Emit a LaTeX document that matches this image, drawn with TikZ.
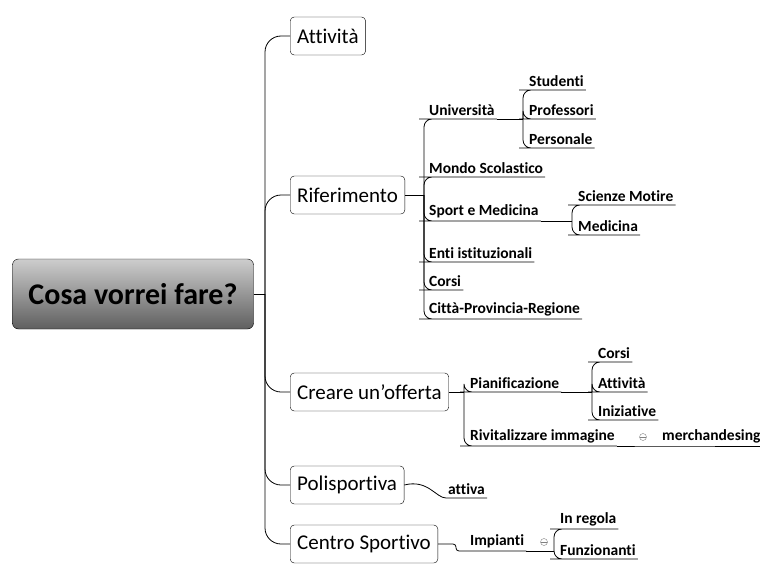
\documentclass[tikz,border=0pt]{standalone}
\usepackage{fontspec}
\setmainfont{Carlito}[Ligatures=NoCommon]
\usepackage{tikz}
\usetikzlibrary{positioning,calc}
\definecolor{mylight}{RGB}{205,205,205}
\definecolor{mydark}{RGB}{95,95,95}
\tikzstyle{central}=[draw,rounded corners=6pt,top color=mylight,bottom color=mydark,minimum width=241pt,minimum height=70pt,font=\fontsize{30}{32}\selectfont\bfseries]
\tikzstyle{topic}=[draw,rounded corners=4pt,minimum height=38pt,inner xsep=7pt,anchor=west,font=\fontsize{21}{23}\selectfont]
\tikzstyle{sub}=[anchor=south west,inner xsep=2pt,inner ysep=3pt,font=\fontsize{15.5}{17}\selectfont\bfseries]
\tikzstyle{link}=[line width=0.8pt,rounded corners=8pt]
\tikzstyle{toggle}=[draw=gray,circle,inner sep=0pt,minimum size=7pt,path picture={\draw[gray] (path picture bounding box.west) -- (path picture bounding box.east);}]

\begin{document}
\begin{tikzpicture}[x=1pt,y=-1pt]
\useasboundingbox (0,0) rectangle (760,567);

% central topic
\node [central] (root) at (133,294) {Cosa vorrei fare?};
\coordinate (rootj) at (265,294);

% main topics
\node [topic] (att) at (290,36) {Attività};
\node [topic] (ref) at (290,195) {Riferimento};
\node [topic] (cre) at (290,392) {Creare un'offerta};
\node [topic] (pol) at (290,485) {Polisportiva};
\node [topic] (cen) at (290,544) {Centro Sportivo};

\draw [link] (root.east) -- (rootj);
\foreach \t in {att,ref,cre,pol,cen}
  \draw [link,rounded corners=16pt] (rootj) |- (\t.west);

% Riferimento
\node [sub] (uni) at (427,119) {Università};
\node [sub] (mon) at (427,177) {Mondo Scolastico};
\node [sub] (spo) at (427,221) {Sport e Medicina};
\node [sub] (ent) at (427,262) {Enti istituzionali};
\node [sub] (cor) at (427,290) {Corsi};
\node [sub] (cit) at (427,319) {Città-Provincia-Regione};
\coordinate (refj) at (424,195);
\draw [link] (ref.east) -- (refj);
\foreach \n in {uni,mon,spo,ent,cor,cit}
  \draw [link] (refj) |- (\n.south west) -- (\n.south east);

\node [sub] (stu) at (527,90) {Studenti};
\node [sub] (pro) at (527,119) {Professori};
\node [sub] (per) at (527,148) {Personale};
\coordinate (unij) at (523,119);
\draw [link] (uni.south east) -- (unij);
\foreach \n in {stu,pro,per}
  \draw [link] (unij) |- (\n.south west) -- (\n.south east);

\node [sub] (sci) at (576,205) {Scienze Motire};
\node [sub] (med) at (576,235) {Medicina};
\coordinate (spoj) at (572,221);
\draw [link] (spo.south east) -- (spoj);
\foreach \n in {sci,med}
  \draw [link] (spoj) |- (\n.south west) -- (\n.south east);

% Creare un'offerta
\node [sub] (pia) at (468,392) {Pianificazione};
\node [sub] (riv) at (468,446) {Rivitalizzare immagine};
\coordinate (crej) at (464,392);
\draw [link] (cre.east) -- (crej);
\foreach \n in {pia,riv}
  \draw [link] (crej) |- (\n.south west) -- (\n.south east);

\node [sub] (cors) at (596,362) {Corsi};
\node [sub] (attv) at (596,392) {Attività};
\node [sub] (ini) at (596,420) {Iniziative};
\coordinate (piaj) at (592,392);
\draw [link] (pia.south east) -- (piaj);
\foreach \n in {cors,attv,ini}
  \draw [link] (piaj) |- (\n.south west) -- (\n.south east);

\node [sub] (mer) at (660,446) {merchandesing};
\draw [link] (riv.south east) -- (mer.south west) -- (mer.south east);
\node [toggle] (rivt) at (643,437) {};

% Polisportiva
\node [sub] (atv) at (446,498) {attiva};
\draw [line width=0.8pt] (pol.east) .. controls (428,479) and (436,498) .. (atv.south west) -- (atv.south east);

% Centro Sportivo
\node [sub] (imp) at (468,551) {Impianti};
\coordinate (cenj) at (456,544);
\draw [link,rounded corners=3pt] (cen.east) -- (cenj) |- (imp.south west) -- (imp.south east);

\node [sub] (reg) at (558,529) {In regola};
\node [sub] (fun) at (558,559) {Funzionanti};
\coordinate (impj) at (554,551);
\draw [link] (imp.south east) -- (impj);
\foreach \n in {reg,fun}
  \draw [link] (impj) |- (\n.south west) -- (\n.south east);
\node [toggle] (impt) at (544,542) {};
\end{tikzpicture}
\end{document}
